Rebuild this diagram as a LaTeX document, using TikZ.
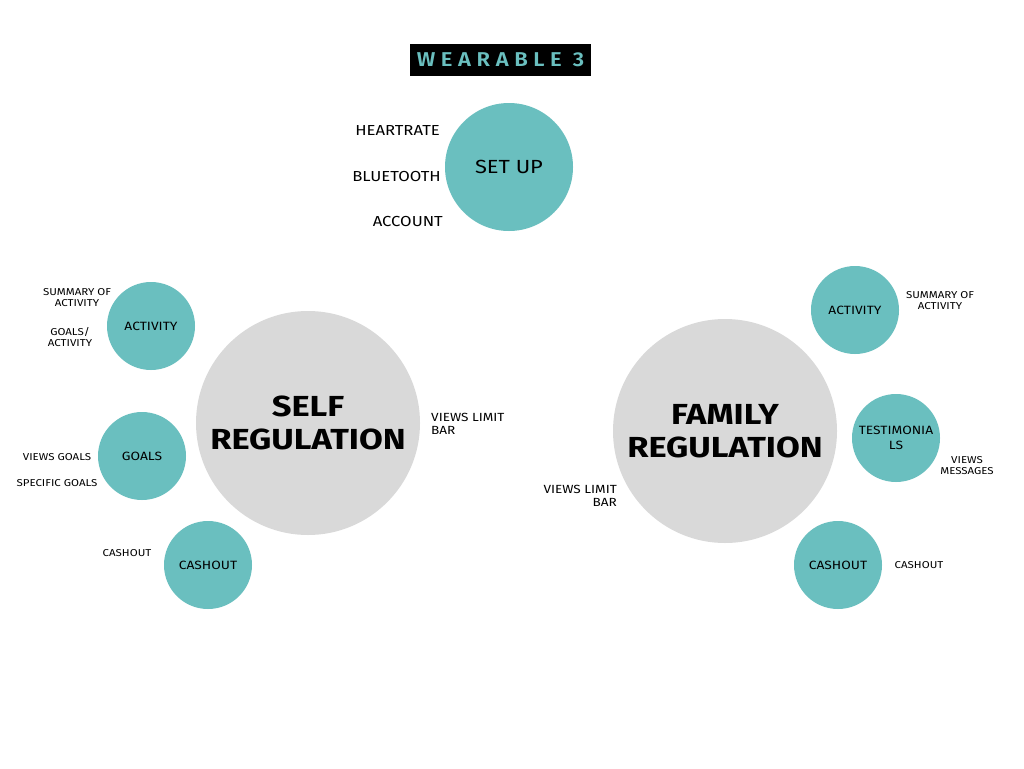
\documentclass[tikz,border=0pt]{standalone}
\usepackage{fontspec}
\setmainfont{Fira Sans}[FakeStretch=1.15]
\newfontfamily\titlefont[LetterSpace=28,FakeStretch=1.1]{Fira Sans SemiBold}
\newfontfamily\regfont[FakeStretch=1.19]{Fira Sans Bold}
\definecolor{wearteal}{HTML}{6ABFBF}
\definecolor{weargray}{HTML}{D9D9D9}
\def\rbig{112pt}
\def\rsmall{44pt}

\begin{document}
\begin{tikzpicture}[
    x=1pt, y=-1pt,
    bigdot/.style={
      circle, fill=weargray, inner sep=0pt, minimum size=2*\rbig,
      align=center, font=\regfont\fontsize{29}{33}\selectfont
    },
    smalldot/.style={
      circle, fill=wearteal, inner sep=0pt, minimum size=2*\rsmall,
      align=center, font=\fontsize{12}{14.5}\selectfont
    },
    note/.style={
      inner sep=0pt, align=center, font=\fontsize{10}{11}\selectfont
    },
    setnote/.style={
      inner sep=0pt, anchor=east, font=\fontsize{14.5}{17}\selectfont
    }
  ]
    \useasboundingbox[fill=white] (0,0) rectangle (1024,768);

    % title
    \node[fill=black, text=wearteal, minimum width=181pt, minimum height=32pt,
          inner sep=0pt, font=\titlefont\fontsize{20}{22}\selectfont]
          (Title) at (500.5,60) {WEARABLE 3};

    % set up
    \node[smalldot, minimum size=128pt, font=\fontsize{19}{22}\selectfont]
          (SetUp) at (509,167) {SET UP};
    \node[setnote] (Heart) at (440,131) {HEARTRATE};
    \node[setnote] (Blue)  at (441,177) {BLUETOOTH};
    \node[setnote] (Acct)  at (443,222) {ACCOUNT};

    % self regulation
    \node[bigdot] (Self) at (308,423) {SELF\\REGULATION};
    \node[smalldot] (SelfAct)  at (151,326) {ACTIVITY};
    \node[smalldot] (SelfGoal) at (142,456) {GOALS};
    \node[smalldot] (SelfCash) at (208,565) {CASHOUT};

    \node[note] (SumA)  at (77,298)  {SUMMARY OF\\ACTIVITY};
    \node[note] (GoalA) at (70,337)  {GOALS/\\ACTIVITY};
    \node[note] (ViewG) at (57,457)  {VIEWS GOALS};
    \node[note] (SpecG) at (57,483)  {SPECIFIC GOALS};
    \node[note] (CashA) at (127,553) {CASHOUT};
    \node[note, anchor=west, align=left, font=\fontsize{11.8}{13.5}\selectfont]
          (LimitA) at (431,424) {VIEWS LIMIT\\BAR};

    % family regulation
    \node[bigdot] (Family) at (725,431) {FAMILY\\REGULATION};
    \node[smalldot] (FamAct)  at (855,310) {ACTIVITY};
    \node[smalldot] (FamTest) at (896,438) {TESTIMONIA\\LS};
    \node[smalldot] (FamCash) at (838,565) {CASHOUT};

    \node[note] (SumB)  at (940,301) {SUMMARY OF\\ACTIVITY};
    \node[note] (ViewM) at (967,466) {VIEWS\\MESSAGES};
    \node[note] (CashB) at (919,565) {CASHOUT};
    \node[note, anchor=east, align=right, font=\fontsize{11.8}{13.5}\selectfont]
          (LimitB) at (617,496) {VIEWS LIMIT\\BAR};
  \end{tikzpicture}
\end{document}
